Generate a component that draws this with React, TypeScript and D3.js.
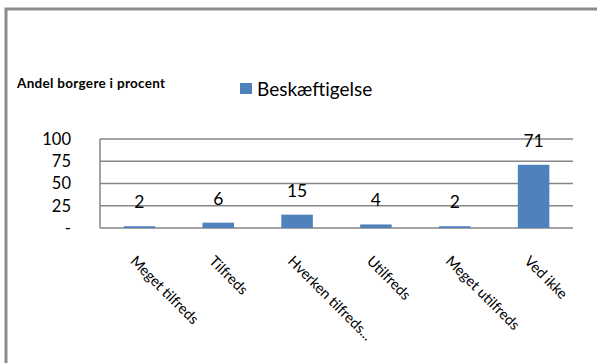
import * as d3 from 'd3';
import React, { useEffect, useRef } from 'react';

const categories = [
  'Meget tilfreds',
  'Tilfreds',
  'Hverken tilfreds...',
  'Utilfreds',
  'Meget utilfreds',
  'Ved ikke',
];
const values = [2, 6, 15, 4, 2, 71];
const yTicks = [0, 25, 50, 75, 100];
const seriesName = 'Beskæftigelse';
const yTitle = 'Andel borgere i procent';

const W = 598;
const H = 363;
const margin = { left: 100, top: 139, right: 25, bottom: 135 };
const font = 'Lato, "Open Sans", sans-serif';

const App = () => {
  const ref = useRef<SVGSVGElement>(null);

  useEffect(() => {
    drawChart();
  }, []);

  function drawChart() {
    const svg = d3.select(ref.current);
    svg.selectAll('*').remove();

    const plotW = W - margin.left - margin.right;
    const plotH = H - margin.top - margin.bottom;

    // frame (left + top edge only)
    svg
      .append('path')
      .attr('d', `M6,${H} L6,9 L${W - 1},9`)
      .attr('fill', 'none')
      .attr('stroke', '#8c8c8c')
      .attr('stroke-width', 3);

    svg
      .append('text')
      .attr('x', 17)
      .attr('y', 88)
      .attr('font-family', font)
      .attr('font-weight', 'bold')
      .attr('font-size', 13.5)
      .attr('letter-spacing', 0.3)
      .attr('fill', '#000')
      .text(yTitle);

    // legend
    svg
      .append('rect')
      .attr('x', 240)
      .attr('y', 83)
      .attr('width', 12)
      .attr('height', 11)
      .attr('fill', '#4F81BD');
    svg
      .append('text')
      .attr('x', 257)
      .attr('y', 96)
      .attr('font-family', font)
      .attr('font-size', 19)
      .attr('fill', '#000')
      .text(seriesName);

    const g = svg.append('g').attr('transform', `translate(${margin.left},${margin.top})`);

    const xScale = d3.scaleBand().domain(categories).range([0, plotW]).paddingInner(0.6).paddingOuter(0.3);
    const yScale = d3.scaleLinear().domain([0, 100]).range([plotH, 0]);

    // gridlines
    g.selectAll('.grid')
      .data(yTicks)
      .enter()
      .append('line')
      .attr('x1', 0)
      .attr('x2', plotW)
      .attr('y1', (d) => yScale(d))
      .attr('y2', (d) => yScale(d))
      .attr('stroke', '#868686')
      .attr('stroke-width', 1.5);

    g.append('line')
      .attr('x1', 0)
      .attr('x2', 0)
      .attr('y1', 0)
      .attr('y2', plotH)
      .attr('stroke', '#868686')
      .attr('stroke-width', 1.5);

    // y tick labels
    g.selectAll('.ytick')
      .data(yTicks)
      .enter()
      .append('text')
      .attr('x', -29)
      .attr('y', (d) => yScale(d))
      .attr('dy', '0.35em')
      .attr('text-anchor', 'end')
      .attr('font-family', font)
      .attr('font-size', 16.5)
      .attr('fill', '#000')
      .text((d) => (d === 0 ? '-' : String(d)));

    // bars
    g.selectAll('.bar')
      .data(values)
      .enter()
      .append('rect')
      .attr('x', (d, i) => xScale(categories[i]) as number)
      .attr('y', (d) => yScale(d))
      .attr('width', xScale.bandwidth())
      .attr('height', (d) => plotH - yScale(d))
      .attr('fill', '#4F81BD');

    // value labels
    g.selectAll('.val')
      .data(values)
      .enter()
      .append('text')
      .attr('x', (d, i) => (xScale(categories[i]) as number) + xScale.bandwidth() / 2)
      .attr('y', (d) => yScale(d) - 18)
      .attr('text-anchor', 'middle')
      .attr('font-family', font)
      .attr('font-size', 17.5)
      .attr('fill', '#000')
      .text((d) => String(d));

    // category labels, rotated 45deg
    g.selectAll('.cat')
      .data(categories)
      .enter()
      .append('text')
      .attr('transform', (d) => {
        const cx = (xScale(d) as number) + xScale.bandwidth() / 2 - 10;
        return `translate(${cx},${plotH + 34}) rotate(45)`;
      })
      .attr('font-family', font)
      .attr('font-size', 14.5)
      .attr('fill', '#000')
      .text((d) => d);
  }

  return (
    <svg
      ref={ref}
      width={W}
      height={H}
      style={{ position: 'absolute', left: 0, top: 0, background: '#fff' }}
    />
  );
};

export default App;
